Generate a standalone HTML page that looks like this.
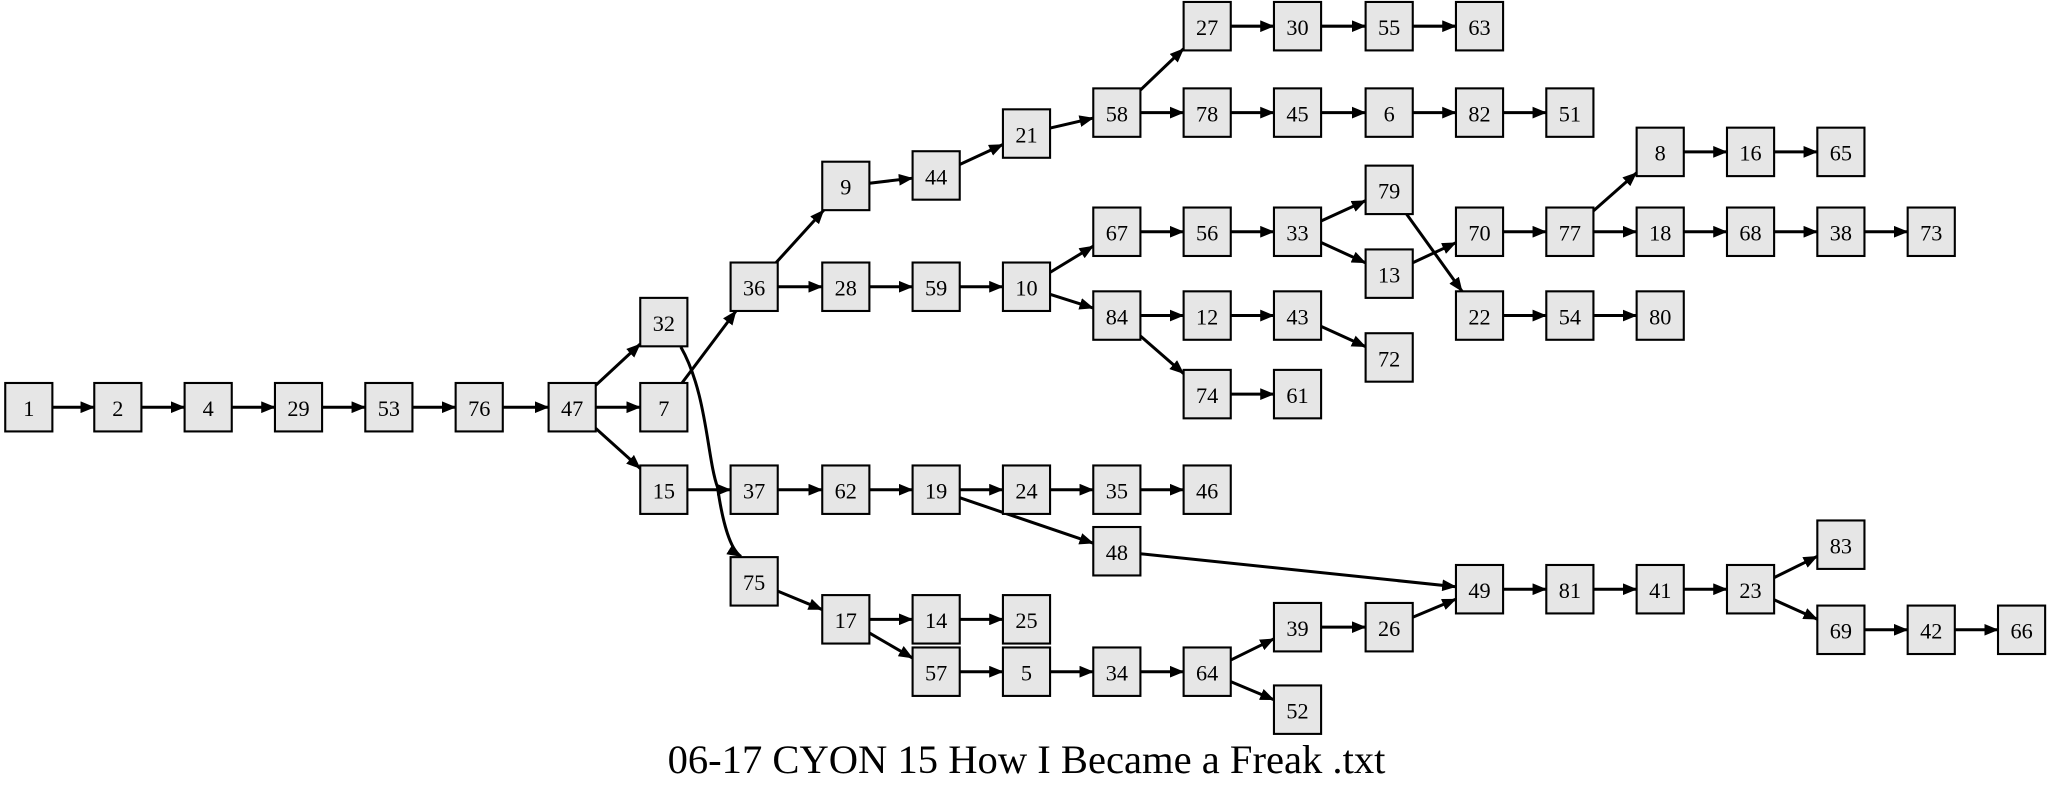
<!DOCTYPE html>
<html><head><meta charset="utf-8"><style>
html,body{margin:0;padding:0;background:#fff;width:2053px;height:797px;overflow:hidden}
svg{display:block}
text{font-family:"Liberation Serif",serif;font-size:17px;text-anchor:middle;dominant-baseline:central}
#n rect{fill:#e6e6e6;stroke:#000;stroke-width:1.6}
</style></head><body>
<svg id="s" width="2053" height="797" viewBox="0 0 1568 608.7" preserveAspectRatio="none">
<defs><marker id="a" markerWidth="11" markerHeight="9" refX="10.5" refY="4.5" orient="auto" markerUnits="userSpaceOnUse"><path d="M0,0L11,4.5L0,9z" fill="#000"/></marker></defs>
<g id="e"><path d="M520,265 C540,300 540,350 548,372 C552,400 558,420 566,425" fill="none" stroke="#000" stroke-width="2.3" marker-end="url(#a)"/></g>
<g id="n">
<rect x="4" y="292.5" width="36" height="37"/><text x="22" y="312">1</text>
<rect x="72" y="292.5" width="36" height="37"/><text x="90" y="312">2</text>
<rect x="141" y="292.5" width="36" height="37"/><text x="159" y="312">4</text>
<rect x="210" y="292.5" width="36" height="37"/><text x="228" y="312">29</text>
<rect x="279" y="292.5" width="36" height="37"/><text x="297" y="312">53</text>
<rect x="348" y="292.5" width="36" height="37"/><text x="366" y="312">76</text>
<rect x="419" y="292.5" width="36" height="37"/><text x="437" y="312">47</text>
<rect x="489" y="292.5" width="36" height="37"/><text x="507" y="312">7</text>
<rect x="489" y="227.5" width="36" height="37"/><text x="507" y="247">32</text>
<rect x="489" y="355.5" width="36" height="37"/><text x="507" y="375">15</text>
<rect x="558" y="200.5" width="36" height="37"/><text x="576" y="220">36</text>
<rect x="558" y="355.5" width="36" height="37"/><text x="576" y="375">37</text>
<rect x="558" y="425.5" width="36" height="37"/><text x="576" y="445">75</text>
<rect x="628" y="123.5" width="36" height="37"/><text x="646" y="143">9</text>
<rect x="628" y="200.5" width="36" height="37"/><text x="646" y="220">28</text>
<rect x="628" y="355.5" width="36" height="37"/><text x="646" y="375">62</text>
<rect x="628" y="454.5" width="36" height="37"/><text x="646" y="474">17</text>
<rect x="697" y="115.5" width="36" height="37"/><text x="715" y="135">44</text>
<rect x="697" y="200.5" width="36" height="37"/><text x="715" y="220">59</text>
<rect x="697" y="355.5" width="36" height="37"/><text x="715" y="375">19</text>
<rect x="697" y="454.5" width="36" height="37"/><text x="715" y="474">14</text>
<rect x="697" y="494.5" width="36" height="37"/><text x="715" y="514">57</text>
<rect x="766" y="83.5" width="36" height="37"/><text x="784" y="103">21</text>
<rect x="766" y="200.5" width="36" height="37"/><text x="784" y="220">10</text>
<rect x="766" y="355.5" width="36" height="37"/><text x="784" y="375">24</text>
<rect x="766" y="454.5" width="36" height="37"/><text x="784" y="474">25</text>
<rect x="766" y="494.5" width="36" height="37"/><text x="784" y="514">5</text>
<rect x="835" y="67.5" width="36" height="37"/><text x="853" y="87">58</text>
<rect x="835" y="158.5" width="36" height="37"/><text x="853" y="178">67</text>
<rect x="835" y="222.5" width="36" height="37"/><text x="853" y="242">84</text>
<rect x="835" y="355.5" width="36" height="37"/><text x="853" y="375">35</text>
<rect x="835" y="402.5" width="36" height="37"/><text x="853" y="422">48</text>
<rect x="835" y="494.5" width="36" height="37"/><text x="853" y="514">34</text>
<rect x="904" y="1.5" width="36" height="37"/><text x="922" y="21">27</text>
<rect x="904" y="67.5" width="36" height="37"/><text x="922" y="87">78</text>
<rect x="904" y="158.5" width="36" height="37"/><text x="922" y="178">56</text>
<rect x="904" y="222.5" width="36" height="37"/><text x="922" y="242">12</text>
<rect x="904" y="282.5" width="36" height="37"/><text x="922" y="302">74</text>
<rect x="904" y="355.5" width="36" height="37"/><text x="922" y="375">46</text>
<rect x="904" y="494.5" width="36" height="37"/><text x="922" y="514">64</text>
<rect x="973" y="1.5" width="36" height="37"/><text x="991" y="21">30</text>
<rect x="973" y="67.5" width="36" height="37"/><text x="991" y="87">45</text>
<rect x="973" y="158.5" width="36" height="37"/><text x="991" y="178">33</text>
<rect x="973" y="222.5" width="36" height="37"/><text x="991" y="242">43</text>
<rect x="973" y="282.5" width="36" height="37"/><text x="991" y="302">61</text>
<rect x="973" y="460.5" width="36" height="37"/><text x="991" y="480">39</text>
<rect x="973" y="523.5" width="36" height="37"/><text x="991" y="543">52</text>
<rect x="1043" y="1.5" width="36" height="37"/><text x="1061" y="21">55</text>
<rect x="1043" y="67.5" width="36" height="37"/><text x="1061" y="87">6</text>
<rect x="1043" y="126.5" width="36" height="37"/><text x="1061" y="146">79</text>
<rect x="1043" y="190.5" width="36" height="37"/><text x="1061" y="210">13</text>
<rect x="1043" y="254.5" width="36" height="37"/><text x="1061" y="274">72</text>
<rect x="1043" y="460.5" width="36" height="37"/><text x="1061" y="480">26</text>
<rect x="1112" y="1.5" width="36" height="37"/><text x="1130" y="21">63</text>
<rect x="1112" y="67.5" width="36" height="37"/><text x="1130" y="87">82</text>
<rect x="1112" y="158.5" width="36" height="37"/><text x="1130" y="178">70</text>
<rect x="1112" y="222.5" width="36" height="37"/><text x="1130" y="242">22</text>
<rect x="1112" y="431.5" width="36" height="37"/><text x="1130" y="451">49</text>
<rect x="1181" y="67.5" width="36" height="37"/><text x="1199" y="87">51</text>
<rect x="1181" y="158.5" width="36" height="37"/><text x="1199" y="178">77</text>
<rect x="1181" y="222.5" width="36" height="37"/><text x="1199" y="242">54</text>
<rect x="1181" y="431.5" width="36" height="37"/><text x="1199" y="451">81</text>
<rect x="1250" y="97.5" width="36" height="37"/><text x="1268" y="117">8</text>
<rect x="1250" y="158.5" width="36" height="37"/><text x="1268" y="178">18</text>
<rect x="1250" y="222.5" width="36" height="37"/><text x="1268" y="242">80</text>
<rect x="1250" y="431.5" width="36" height="37"/><text x="1268" y="451">41</text>
<rect x="1319" y="97.5" width="36" height="37"/><text x="1337" y="117">16</text>
<rect x="1319" y="158.5" width="36" height="37"/><text x="1337" y="178">68</text>
<rect x="1319" y="431.5" width="36" height="37"/><text x="1337" y="451">23</text>
<rect x="1388" y="97.5" width="36" height="37"/><text x="1406" y="117">65</text>
<rect x="1388" y="158.5" width="36" height="37"/><text x="1406" y="178">38</text>
<rect x="1388" y="397.5" width="36" height="37"/><text x="1406" y="417">83</text>
<rect x="1388" y="462.5" width="36" height="37"/><text x="1406" y="482">69</text>
<rect x="1457" y="158.5" width="36" height="37"/><text x="1475" y="178">73</text>
<rect x="1457" y="462.5" width="36" height="37"/><text x="1475" y="482">42</text>
<rect x="1526" y="462.5" width="36" height="37"/><text x="1544" y="482">66</text>
</g>
<text x="784" y="580" style="font-size:31px">06-17 CYON 15 How I Became a Freak .txt</text>
</svg>
<script>
var P={1:[22,311],2:[90,311],4:[159,311],29:[228,311],53:[297,311],76:[366,311],47:[437,311],7:[507,311],32:[507,246],15:[507,374],
36:[576,219],37:[576,374],75:[576,444],9:[646,142],28:[646,219],62:[646,374],17:[646,473],
44:[715,134],59:[715,219],19:[715,374],14:[715,473],57:[715,513],
21:[784,102],10:[784,219],24:[784,374],25:[784,473],5:[784,513],
58:[853,86],67:[853,177],84:[853,241],35:[853,374],48:[853,421],34:[853,513],
27:[922,20],78:[922,86],56:[922,177],12:[922,241],74:[922,301],46:[922,374],64:[922,513],
30:[991,20],45:[991,86],33:[991,177],43:[991,241],61:[991,301],39:[991,479],52:[991,542],
55:[1061,20],6:[1061,86],79:[1061,145],13:[1061,209],72:[1061,273],26:[1061,479],
63:[1130,20],82:[1130,86],70:[1130,177],22:[1130,241],49:[1130,450],
51:[1199,86],77:[1199,177],54:[1199,241],81:[1199,450],
8:[1268,116],18:[1268,177],80:[1268,241],41:[1268,450],
16:[1337,116],68:[1337,177],23:[1337,450],
65:[1406,116],38:[1406,177],83:[1406,416],69:[1406,481],
73:[1475,177],42:[1475,481],66:[1544,481]};
var E="1-2,2-4,4-29,29-53,53-76,76-47,47-32,47-7,47-15,7-36,15-37,36-9,36-28,9-44,44-21,21-58,58-27,58-78,27-30,30-55,55-63,78-45,45-6,6-82,82-51,28-59,59-10,10-67,10-84,67-56,56-33,33-79,33-13,79-22,13-70,70-77,77-8,77-18,8-16,16-65,18-68,68-38,38-73,22-54,54-80,84-12,84-74,12-43,43-72,74-61,37-62,62-19,19-24,19-48,24-35,35-46,48-49,75-17,17-14,17-57,14-25,57-5,5-34,34-64,64-39,64-52,39-26,26-49,49-81,81-41,41-23,23-83,23-69,69-42,42-66".split(",");
var ns="http://www.w3.org/2000/svg",g=document.getElementById("e");
E.forEach(function(s){var p=s.split("-"),a=P[p[0]],b=P[p[1]],dx=b[0]-a[0],dy=b[1]-a[1];
var ta=Math.min(dx?18/Math.abs(dx):9,dy?18.5/Math.abs(dy):9);
var l=document.createElementNS(ns,"line");
l.setAttribute("x1",a[0]+dx*ta);l.setAttribute("y1",a[1]+dy*ta);
l.setAttribute("x2",b[0]-dx*ta);l.setAttribute("y2",b[1]-dy*ta);
l.setAttribute("stroke","#000");l.setAttribute("stroke-width","2.3");l.setAttribute("marker-end","url(#a)");g.appendChild(l);});
</script>
</body></html>
